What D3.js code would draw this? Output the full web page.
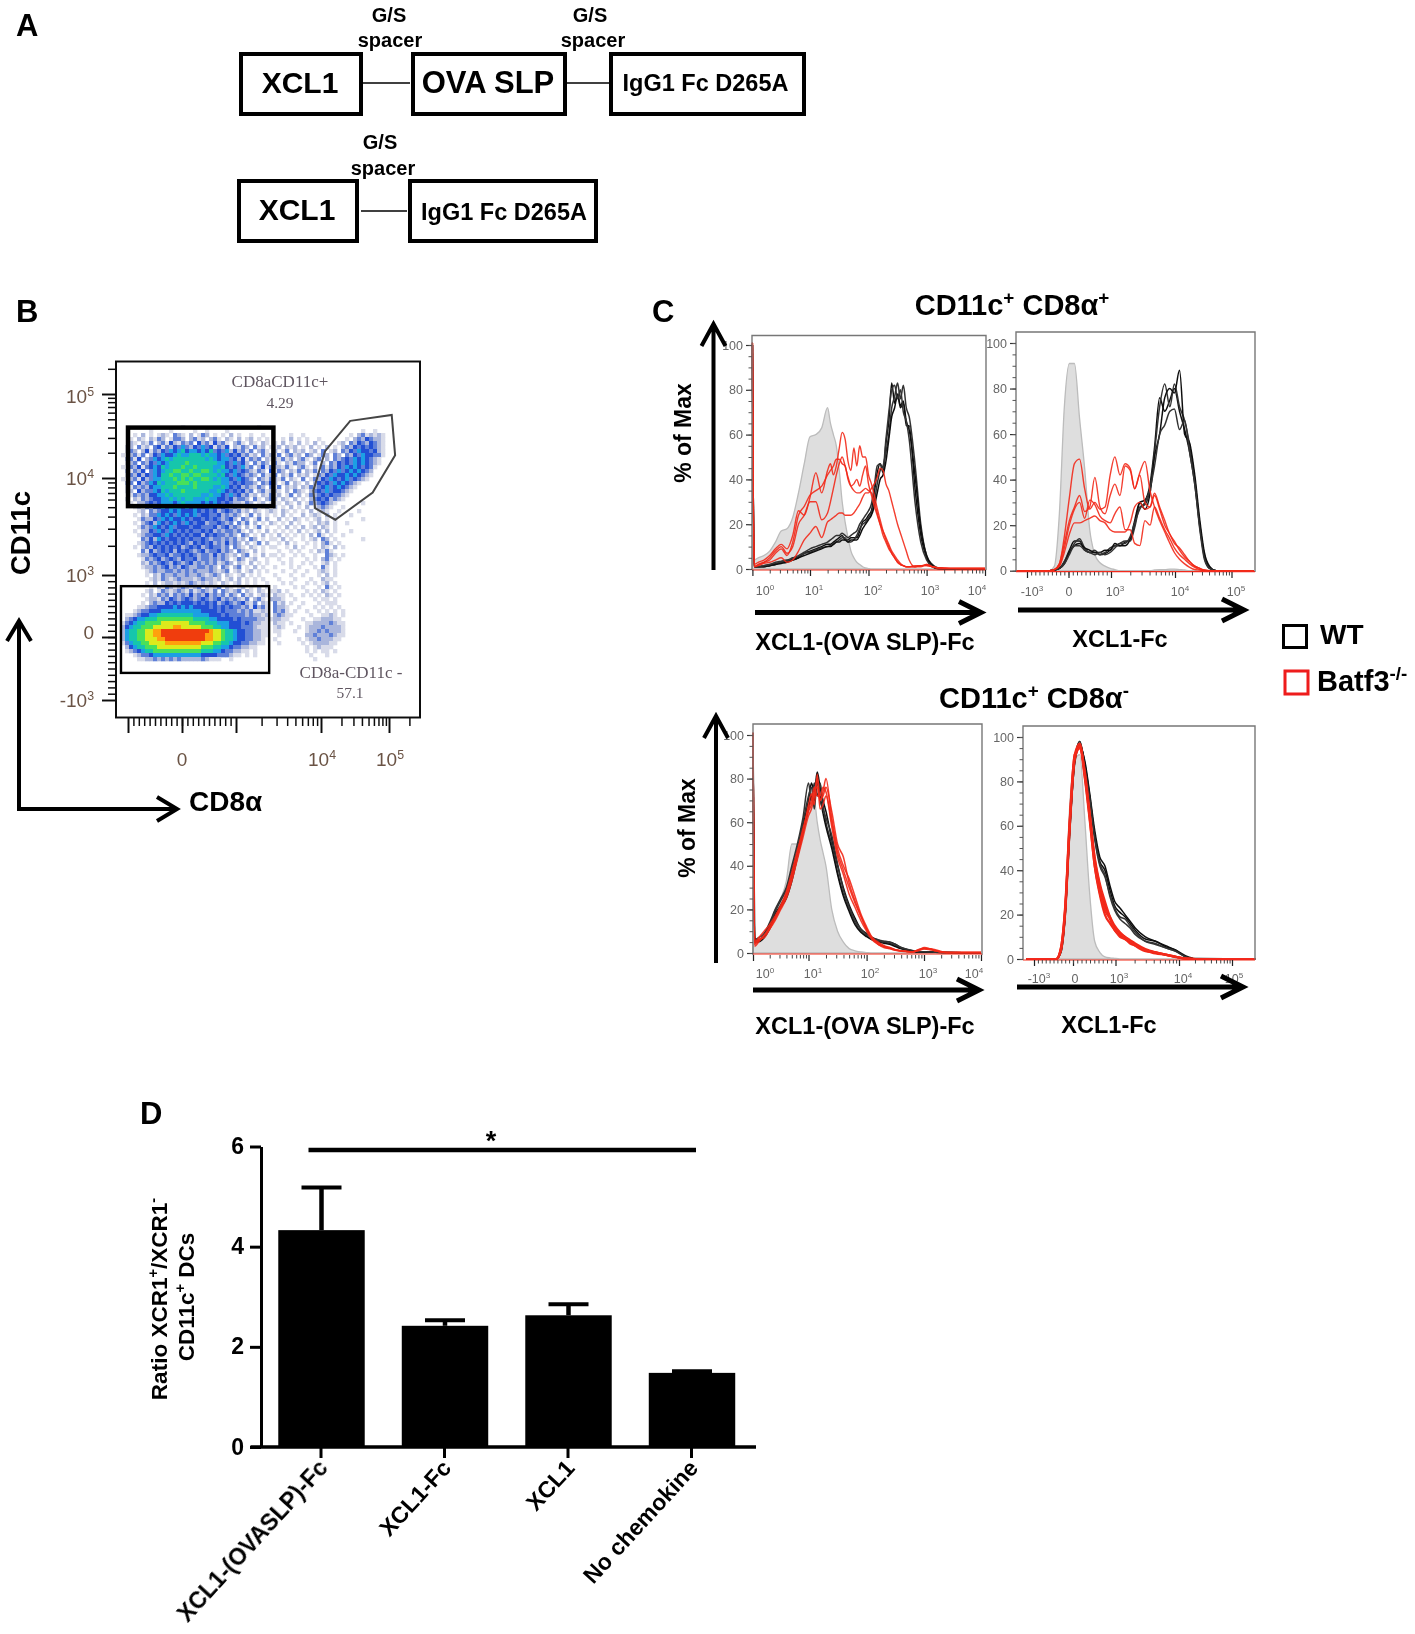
<!DOCTYPE html>
<html><head><meta charset="utf-8">
<script src="https://cdn.jsdelivr.net/npm/d3@7/dist/d3.min.js"></script>
<style>html,body{margin:0;padding:0;background:#fff}svg{display:block}text{font-family:"Liberation Sans",Arial,sans-serif}</style>
</head><body><svg id="fig" width="1415" height="1634" xmlns="http://www.w3.org/2000/svg"></svg>
<script>
// ---------- Panel D values ----------
const barCategories = ["XCL1-(OVASLP)-Fc","XCL1-Fc","XCL1","No chemokine"];
const barValues = [4.33,2.42,2.63,1.48];
const barErrorTops = [5.2,2.55,2.87,1.53];
const barYTicks = [0,2,4,6];

// ---------- Panel B values (axis channels: -1=-10^3, 0=0, 1=10^3, 2=10^4, 3=10^5) ----------
const flowChannels = [-1,0,1,2,3];
const flowYLabels = [["-10","3"],["0",""],["10","3"],["10","4"],["10","5"]];
const flowXLabels = [["0","",0],["10","4",2],["10","5",3]];
const gateHigh = {x:[-1,1.44], y:[1.71,2.6]};
const gateLow = {x:[-1.13,1.39], y:[-.57,.82]};
const gatePolyX = [2.43,3.04,3.09,2.76,2.21,1.93,1.91,2.06];
const gatePolyY = [2.68,2.75,2.27,1.85,1.57,1.69,1.87,2.32];
// density levels: 0 empty ... a = hottest. Left part of each row (CD8a low side)
const densityLeft = [
"00000000000000010000000000000000001000",
"00000001000010000010010000100000000000",
"00010201012103210201320101020100100100",
"00102102132013320231202310210201201010",
"00210213023142132304231423102310210210",
"01203120341324353243534132402132031201",
"01320241324354564554546343524231302310",
"10231302435445655666565545343423120312",
"02314023545656666666656545534241323021",
"01230324354566667666666655435342031320",
"10324134546566676676666556434352302413",
"02132403545667766766776565545343213204",
"01324243546676677677666656435432320312",
"10231423556667676766776565543543203213",
"02304235465666777676666665534343320324",
"01132324556667666676666556543423213203",
"01204233546566676666665565434342302312",
"00132324455656666666556554353423120213",
"01021323445565656655565544342332031023",
"00102234345554565555454543432213201201",
"00012132445455545454445434323202130120",
"00001203234454544454343423432312021012",
"00010213354543545453443342323201302010",
"00001322435454454344343432342032013020",
"00010234254345435434423343230313020102",
"00001323543453444344333423423202013010",
"00010224354354343433434232332310201020",
"00001233443543434344243433232032010201",
"00000324254344343433432332323120320101",
"00001234343434343243434232423202013020",
"00010232434343423434234332303210210101",
"00000314234342434323423342320321020100",
"00001223433423343432332423212023010201",
"00000132342343243342332323201320120010",
"00000213234324323423232312320210201010",
"00000122323423243223323203202301020100",
"00000012322332323232223212301201201010",
"00000010213223223223212320210120101000",
"00000001213212322212322120120201010100",
"00000010201221212321212102101201010010",
"00000001021321232123021230210120102010",
"00000012013212321312321303212302102101",
"00000102132313232423242323132031201210",
"00000012213243234323432342323213023102",
"00000102322434344434343423432342130210",
"00001123344445454544443434343323142310",
"00012334445555555555444434333232311210",
"01123445566666666655554443433332322120",
"02345566677777777766665544443433332211",
"13456677778888888777766655544434322110",
"24566777888889988888777665544433321110",
"2566778899aaaaaaaaaaaa9887665443322110",
"2566778899aaaaaaaaaaa99887665443322110",
"25667788899aaaaaaaaaa99887665443322100",
"13566778888999999999888776654433221100",
"02456677788888888888777665543322110000",
"01234566777777777777666554332211010000",
"00012334555555555555444433321101010000",
"00001122323232322222321110010000000000"
];
// Right part of each row (CD8a high side, polygon gate and sparse events)
const densityRight = [
"0000000000000000000000000000000",
"0000000000000000000000100100000",
"0000100100000000000102312121000",
"0010201010010000001023243221000",
"1020102010201000120324324321000",
"1202120102010201023243434321000",
"2013021201203012032435443421000",
"1302312032013203203243544331000",
"2131202310230203234354543210000",
"3102132201302032434354543210000",
"2213102310203132435454343100000",
"1320213021303243534545432000000",
"3021302120132435445454321000000",
"2130210301324354345343210000000",
"2013021020243435454321000000000",
"1302120213234534543210000000000",
"2102032102343534432100000000000",
"1201302013234343321000000000000",
"2021020102343423210000000000000",
"1102102013234321000000100000000",
"2010201020123210010000000000000",
"1021010102012100100001000000000",
"1020100201210201000100000000000",
"0201021010120101000000100000000",
"1010201001021201001000000000000",
"0102010201202101000000000000000",
"1010102010120201000100000000000",
"0201010102031010010000000000000",
"1020100101203201000000100000000",
"0102010010102310100000000000000",
"1001020100102102010000000000000",
"0100101001021310000000000000000",
"1010010100100321010000000000000",
"0100100010102310100000000000000",
"0010100101001201000000000000000",
"1000101000103101000000000000000",
"0010010010012101000000000000000",
"1000100100010201000000000000000",
"0100010001002110000000000000000",
"0010100010101201000000000000000",
"1000010100010310100000000000000",
"1201000010102101000000000000000",
"2110100101010210100000000000000",
"2210010000101101000000000000000",
"3120100100010111000000000000000",
"3221001000101010100000000000000",
"3231010010010101010000000000000",
"2321100001001121010000000000000",
"2211000100112221100000000000000",
"2110100011222232110000000000000",
"1210001012223222210000000000000",
"1100010012232322210000000000000",
"0100000022322232110000000000000",
"1000001012232221100000000000000",
"0100000101222211000000000000000",
"0000000010121110000000000000000",
"0000000010101101000000000000000",
"0000000001000100000000000000000",
"0000000000100000000000000000000"
];
const densityColors = {"0":null,"1":"#d8dbe9","2":"#aab6dc","3":"#5f80d8","4":"#2450d4","5":"#1a9fe4","6":"#16c6ac","7":"#48e05a","8":"#dcea1e","9":"#ffa00f","a":"#f03c10"};

// ---------- Panel C: CD11c+ CD8a+ / XCL1-(OVA SLP)-Fc (x = log10 decades) ----------
const c1X = [0,.03,.1,.2,.3,.4,.5,.6,.7,.8,.9,1,1.1,1.2,1.3,1.35,1.4,1.45,1.5,1.55,1.6,1.65,1.7,1.75,1.8,1.85,1.9,1.95,2,2.05,2.1,2.15,2.2,2.25,2.3,2.35,2.4,2.45,2.5,2.55,2.6,2.65,2.7,2.8,2.9,3,3.1,3.2,3.4,4];
const c1Gray = [100,4,5,6,8,12,17,18,23,34,47,59,60,63,72,65,60,55,44,30,21,14,8,5,3,2,1,.5,.2,0,0,0,0,0,0,0,0,0,0,0,0,0,0,0,0,0,0,0,0,0];
const c1Red1 = [101,2,3,4,6,9,11,9,15,26,24,32,43,34,44,47,42,46,54,61,58,48,44,54,46,55,50,50,42,38,33,27,22,17,13,10,7,5,3,2,1.5,1,1,1.5,1.5,2,1,.5,.3,.2];
const c1Red2 = [101,1,2,3,4,7,9,6,12,24,28,33,35,37,42,44,46,49,49,47,46,40,37,38,40,37,42,46,38,33,28,24,20,17,14,11,8,6,4,2.5,1.5,1,1,1,1.5,1.5,1,.5,.3,.2];
const c1Red3 = [101,1,1.5,2.5,3,4,5,3,4,8,13,16,19,14,21,22,23,24,25,25,24,24,24,25,27,29,32,34,34,36,38,41,45,44,38,35,30,25,20,16,12,8,4,1,1,2,1,.5,.3,.2];
const c1Red4 = [101,1,2,3,5,8,10,7,10,20,24,30,30,22,25,30,36,42,47,50,46,41,37,35,34,34,35,36,35,34,30,25,20,15,12,9,7,5,3,2,1.5,1,1,1,1.5,1.5,1,.5,.3,.2];
const c1Blk1 = [100,1,1,1,1.5,2,3,3.5,4,5,7,8,9,10,11,11,12,13,14,15,13,13,14,14,14,17,21,22,24,26,34,43,47,43,56,66,83,74,78,73,75,64,64,36,15,5,1,0,0,0];
const c1Blk2 = [100,1,1,1.5,2,2.5,3,3.5,4.5,5.5,7,7.5,8.5,9.5,10,10.5,11,12,13,14,14,12,12,13,15,18,20,21,23,25,30,38,44,46,52,60,72,77,83,76,82,72,68,47,20,6,2,.5,0,0];
const c1Blk3 = [100,1,1,1,1.5,2,2.5,3,4,5,6,7,8,9,10,10,11,12,12,13,13,12,13,13,13,15,18,20,22,24,28,34,40,42,48,58,68,72,78,72,74,66,62,42,18,6,1.5,.3,0,0];
const c1Blk4 = [100,1,1,1.5,2,3,3.5,4,5,6,7.5,9,10,11,12,13,14,15,15,16,15,14,15,16,17,20,22,24,26,29,37,46,47,45,58,70,80,82,76,80,70,66,58,30,12,4,1,.2,0,0];

// ---------- Panel C: CD11c+ CD8a+ / XCL1-Fc (x = channel) ----------
const c2X = [-1.26,-.46,-.34,-.22,-.10,.02,.14,.26,.38,.50,.62,.74,.86,.98,1.06,1.14,1.22,1.30,1.37,1.45,1.53,1.61,1.68,1.76,1.84,1.92,1.99,2.08,2.17,2.26,2.35,2.44,2.52,2.61,2.73,3.08,3.39];
const c2Gray = [0,0,2,25,72,91,91,67,45,18,7,3.5,2,1,.5,0,0,0,0,0,0,0,.3,.5,.5,.7,.7,.5,.3,0,0,0,0,0,0,0,0];
const c2Red1 = [0,0,.5,3,15,32,47,49,36,27,30,27,28,42,50,42,47,45,36,43,48,35,28,22,17,12,8,5,3,1.5,.5,.3,0,0,0,0,0];
const c2Red2 = [0,0,.5,3,12,22,28,33,26,28,41,28,25,33,38,33,46,44,36,42,30,28,33,27,20,16,12,10,7,4,2,1,.3,0,0,0,0];
const c2Red3 = [0,0,.5,2,10,20,27,30,23,31,29,24,22,21,25,28,18,18,12,11,22,20,28,23,18,14,10,7,5,3,1.5,.5,0,0,0,0,0];
const c2Red4 = [0,0,.5,2,8,16,21,21,22,23,24,22,21,18,17,17,17,21,28,30,27,28,34,28,22,16,13,9,6,4,2,1,.3,0,0,0,0];
const c2Blk1 = [0,0,.3,1,4,9,13,13,9,8,8,7,7.5,9,11,11,12.5,14,20,30,31,38,54,76,70,75,80,70,62,52,38,19,6,1,0,0,0];
const c2Blk2 = [0,0,.3,1,4,8,12,14,10,8,9,7,8,10,11,12,13,13,19,28,29,36,52,72,82,72,82,72,66,55,40,20,7,1.5,0,0,0];
const c2Blk3 = [0,0,.3,1,3,8,11,12,10,9,8,8,9,9,12,11,11,14,22,30,27,34,50,60,76,80,78,88,60,56,42,22,8,2,0,0,0];
const c2Blk4 = [0,0,.3,1,3,7,11,11,9,8,7,8,7,8,10,12,12,15,21,27,30,36,46,60,64,70,71,62,66,52,38,18,5,1,0,0,0];

// ---------- Panel C: CD11c+ CD8a- / XCL1-(OVA SLP)-Fc ----------
const c3X = [0,.03,.1,.2,.3,.4,.5,.6,.7,.8,.9,1,1.05,1.1,1.15,1.2,1.25,1.3,1.4,1.5,1.6,1.7,1.8,1.9,2,2.1,2.2,2.3,2.4,2.5,2.6,2.8,2.9,3,3.1,3.2,3.4,4];
const c3Gray = [100,5,6,8,13,20,25,33,50,50,55,68,69,70,60,52,46,40,20,10,5,2,1,.5,.2,0,0,0,0,0,0,0,0,0,0,0,0,0];
const c3Blk1 = [100,7,6,8,12,18,22,27,36,46,58,70,78,74,83,76,70,65,52,40,30,22,16,11,9,7,6,5,5,4,2.5,1,.5,.5,.5,.3,.2,0];
const c3Blk2 = [100,6,7,9,14,20,25,30,40,50,62,78,70,78,72,78,68,60,50,37,27,20,14,10,8,6,5.5,5,4.5,3.5,2,1,.5,.5,.5,.3,.2,0];
const c3Blk3 = [100,5,5,7,11,17,21,25,33,44,55,66,72,70,78,72,64,58,48,36,26,19,13,9.5,7.5,6,5,4.5,4,3,2,.8,.5,.5,.5,.3,.2,0];
const c3Blk4 = [100,6,6,8,13,19,24,29,38,48,60,72,76,66,80,70,66,62,54,41,29,21,15,11,8.5,7,6,5.5,5,4,2.5,1.2,.6,.6,.5,.3,.2,0];
const c3Red1 = [101,4,6,8,12,16,21,26,34,44,55,68,73,68,82,70,74,80,62,48,40,34,26,18,12,7,4.5,3,2.5,1.5,1,.5,1.5,2.2,2,1.5,.2,.2];
const c3Red2 = [101,5,7,10,13,17,22,28,37,47,56,65,68,74,76,70,72,76,65,50,44,32,24,17,11,6.5,4,3,2,1.5,1,.5,1.5,2,2,1,.2,.2];
const c3Red3 = [101,3,5,8,11,15,20,25,33,43,53,63,66,72,80,66,68,72,58,44,36,27,21,15,10,6,4,2.5,2,1.2,.8,.5,1,1.8,1.5,1,.2,.2];
const c3Red4 = [101,4,6,7,11,16,21,27,36,46,57,66,70,76,72,72,76,74,60,46,38,30,23,17,11,7,5,3.5,2.5,1.5,1,.5,1.2,2.5,2,1,.2,.2];

// ---------- Panel C: CD11c+ CD8a- / XCL1-Fc ----------
const c4X = [-1.19,-.43,-.31,-.2,-.08,.04,.16,.28,.39,.51,.63,.75,.87,.98,1.07,1.15,1.23,1.31,1.47,1.63,1.79,1.95,2.12,2.31,3.44];
const c4Gray = [0,0,3,25,70,90,92,62,30,8,3,1,.5,.3,.1,0,0,0,0,0,0,0,0,0,0];
const c4Blk1 = [0,0,4,20,60,90,97,88,74,56,44,40,31,24,21,19,16,13,9,8,5.5,4,1,0,0];
const c4Blk2 = [0,0,3,20,58,89,98,87,72,54,42,37,29,23,19,18,15,12,8,7,5,3.5,1,0,0];
const c4Blk3 = [0,0,4,21,60,88,96,89,75,58,46,42,33,26,23,20,17,14,10,8,6,4,1.5,.2,0];
const c4Blk4 = [0,0,3,19,58,90,98,86,73,55,43,38,28,22,18,16,14,11,8,6.5,5,3.5,1,0,0];
const c4Red1 = [0,0,4,21,60,90,95,84,66,45,33,24,19,15,12,10,8.5,7,4.5,3,2,1,.2,0,0];
const c4Red2 = [0,0,5,24,64,92,97,82,64,42,29,20,16,13,10,9,7,6,4,2.5,2,1,.2,0,0];
const c4Red3 = [0,0,4,22,62,90,96,83,66,46,34,26,19,14,11,9,8,6,3.5,3,2,.8,.2,0,0];
const c4Red4 = [0,0,5,23,63,92,95,81,63,42,30,22,18,13,11,10,8,6.5,4,3,1.8,1,.2,0,0];

const pctTicks = [0,20,40,60,80,100];
const pctMinor = d3.range(0,101,5);
const logLabels = [["10","0",0],["10","1",1],["10","2",2],["10","3",3],["10","4",4]];
const biexLabels = [["-10","3",-1],["0","",0],["10","3",1],["10","4",2],["10","5",3]];

const svg = d3.select("#fig");
const defs = svg.append("defs");
[["soft",.45],["dens",.75]].forEach(([id,s])=>{
  defs.append("filter").attr("id",id).attr("x","-5%").attr("y","-5%").attr("width","110%").attr("height","110%")
    .append("feGaussianBlur").attr("stdDeviation",s);
});
const root = svg.append("g").attr("filter","url(#soft)");

function txt(g,x,y,parts,o={}){
  const t=g.append("text").attr("x",x).attr("y",y).attr("font-size",o.size||20)
    .attr("font-weight",o.weight||"bold").attr("fill",o.fill||"#000")
    .attr("text-anchor",o.anchor||"start");
  if(o.family) t.style("font-family",o.family);
  if(o.rotate!==undefined) t.attr("transform",`rotate(${o.rotate} ${x} ${y})`);
  const sz=o.size||20;
  (Array.isArray(parts)?parts:[[parts,0]]).forEach(([s,sup])=>{
    const ts=t.append("tspan").text(s);
    if(sup){ts.attr("font-size",sz*.65).attr("dy",-sz*.38);}
    else if(t.selectAll("tspan").size()>1){ts.attr("dy",t.node().dataset.up?sz*.38:0);}
    t.node().dataset.up=sup?"1":"";
  });
  return t;
}
function arrow(g,x1,y1,x2,y2,w,hl,hw){
  const a=Math.atan2(y2-y1,x2-x1),c=Math.cos(a),s=Math.sin(a);
  const p=d3.path();p.moveTo(x1,y1);p.lineTo(x2-c*w*.4,y2-s*w*.4);
  p.moveTo(x2-c*hl-s*hw,y2-s*hl+c*hw);p.lineTo(x2,y2);p.lineTo(x2-c*hl+s*hw,y2-s*hl-c*hw);
  g.append("path").attr("d",p.toString()).attr("fill","none").attr("stroke","#000").attr("stroke-width",w);
}
function axis(g,gen,vals,size,color,width){
  const a=g.append("g").call(gen.tickValues(vals).tickSize(size).tickFormat(""));
  a.select(".domain").remove();
  a.selectAll("line").attr("stroke",color).attr("stroke-width",width);
  return a;
}
const logMinor=(a,b)=>d3.merge(d3.range(a,b).map(d=>[2,3,4,5,6,7,8,9].map(k=>d+Math.log10(k))));
const linMinor=(a,b)=>d3.range(a,b+.001,.1).map(d=>+d.toFixed(2));

/* ===== Panel A ===== */
const A=root.append("g");
txt(A,16,36,"A",{size:31});
const boxStyle=(x0,x1,y0,y1,label,size,dx=0,dyy=0)=>{
  A.append("rect").attr("x",x0).attr("y",y0).attr("width",x1-x0).attr("height",y1-y0).attr("fill","none").attr("stroke","#000").attr("stroke-width",4);
  txt(A,(x0+x1)/2+dx,(y0+y1)/2+size*.36+dyy,label,{size,anchor:"middle"});
};
boxStyle(241,361,54,114,"XCL1",30,-1,-2);
boxStyle(413,565,54,114,"OVA SLP",31,-1,-2);
boxStyle(611,804,54,114,"IgG1 Fc D265A",23.5,-2,-1);
boxStyle(239,357,181,241,"XCL1",30,-1,-2);
boxStyle(410,596,181,241,"IgG1 Fc D265A",23.5,1,1);
[[363,410,83],[567,609,83],[361,407,211]].forEach(([a,b,y])=>A.append("line").attr("x1",a).attr("x2",b).attr("y1",y).attr("y2",y).attr("stroke","#000").attr("stroke-width",1.6));
[[389,22,390,47],[590,22,593,47],[380,149,383,175]].forEach(([a,y1,b,y2])=>{
  txt(A,a,y1,"G/S",{size:20,anchor:"middle"});
  txt(A,b,y2,"spacer",{size:20,anchor:"middle"});
});

/* ===== Panel B ===== */
const B=root.append("g");
txt(B,16,322,"B",{size:31});
const bx=d3.scaleLinear().domain(flowChannels).range([128,182,236,321,389]);
const by=d3.scaleLinear().domain(flowChannels).range([700,637,575,478,394]);
const colBand=d3.scaleBand().domain(d3.range(69)).range([121,397]);
const rowBand=d3.scaleBand().domain(d3.range(densityLeft.length)).range([425,661]);
const dens=svg.insert("g",":first-child").attr("filter","url(#dens)");
densityLeft.forEach((left,j)=>{
  (left+densityRight[j]).split("").forEach((ch,i)=>{
    if(!densityColors[ch]||i>=69) return;
    dens.append("rect").attr("x",colBand(i)).attr("y",rowBand(j)).attr("width",colBand.bandwidth()+.3).attr("height",rowBand.bandwidth()+.3).attr("fill",densityColors[ch]);
  });
});
B.append("rect").attr("x",116).attr("y",361.5).attr("width",304).attr("height",356).attr("fill","none").attr("stroke","#111").attr("stroke-width",2);
const bxAxis=B.append("g").attr("transform","translate(0,718)");
const byAxis=B.append("g").attr("transform","translate(116,0)");
axis(bxAxis,d3.axisBottom(bx),flowChannels,15,"#111",2);
axis(bxAxis,d3.axisBottom(bx),[...linMinor(-.9,.9),...logMinor(1,3),3.3],8,"#111",1.5);
axis(byAxis,d3.axisLeft(by),flowChannels,14,"#111",2);
axis(byAxis,d3.axisLeft(by),[...linMinor(-.9,.9),...logMinor(1,3),3.3],8,"#111",1.5);
const flowTxt={size:19,weight:"normal",fill:"#6a5344"};
flowYLabels.forEach((l,i)=>{
  const shift=l[0]==="0"?-5:(l[1]==="5"?2:0);
  txt(B,94,by(flowChannels[i])+7+shift,l[1]?[[l[0],0],[l[1],1]]:[[l[0],0]],{...flowTxt,anchor:"end"});
});
flowXLabels.forEach(l=>{
  txt(B,bx(l[2])+(l[1]?1:0),766,l[1]?[[l[0],0],[l[1],1]]:[[l[0],0]],{...flowTxt,anchor:"middle"});
});
const gateLabel={size:17,weight:"normal",fill:"#5f5560",anchor:"middle",family:"'Liberation Serif',serif"};
txt(B,280,387,"CD8aCD11c+",gateLabel);
txt(B,280,408,"4.29",{...gateLabel,size:15.5});
txt(B,351,678,"CD8a-CD11c -",gateLabel);
txt(B,350,698,"57.1",{...gateLabel,size:15.5});
B.append("rect").attr("x",bx(gateHigh.x[0])).attr("y",by(gateHigh.y[1])).attr("width",bx(gateHigh.x[1])-bx(gateHigh.x[0])).attr("height",by(gateHigh.y[0])-by(gateHigh.y[1])).attr("fill","none").attr("stroke","#000").attr("stroke-width",4.5);
B.append("rect").attr("x",bx(gateLow.x[0])).attr("y",by(gateLow.y[1])).attr("width",bx(gateLow.x[1])-bx(gateLow.x[0])).attr("height",by(gateLow.y[0])-by(gateLow.y[1])).attr("fill","none").attr("stroke","#000").attr("stroke-width",2.4);
B.append("path").attr("d",d3.line().x(d=>bx(d)).y((d,i)=>by(gatePolyY[i])).curve(d3.curveLinearClosed)(gatePolyX)).attr("fill","none").attr("stroke","#444").attr("stroke-width",2);
arrow(B,19,809,19,621,4,20,12);
arrow(B,17,809,177,809,4,20,12);
txt(B,30,575,"CD11c",{size:27.5,rotate:-90});
txt(B,189,811,"CD8α",{size:28});

/* ===== Panel C ===== */
const C=root.append("g");
txt(C,652,322,"C",{size:31});
txt(C,1012,315,[["CD11c",0],["+",1],[" CD8α",0],["+",1]],{size:29,anchor:"middle"});
txt(C,1034,708,[["CD11c",0],["+",1],[" CD8α",0],["-",1]],{size:29,anchor:"middle"});

function histo(cfg){
  const g=C.append("g");
  const x=d3.scaleLinear().domain(cfg.domain).range(cfg.xr);
  const y=d3.scaleLinear().domain([0,100]).range(cfg.yr);
  const [fx0,fx1,fy0,fy1]=cfg.frame;
  const area=d3.area().x((d,i)=>x(cfg.xs[i])).y0(y(0)).y1(d=>y(d)).curve(d3.curveMonotoneX);
  const line=d3.line().x((d,i)=>x(cfg.xs[i])).y(d=>y(d)).curve(d3.curveMonotoneX);
  g.append("path").attr("d",area(cfg.gray)).attr("fill","#dedede").attr("stroke","#bcbcbc").attr("stroke-width",1.3);
  cfg.blacks.forEach((v,i)=>g.append("path").attr("d",line(v)).attr("fill","none").attr("stroke",i%2?"#333":"#111").attr("stroke-width",1.5));
  cfg.reds.forEach(v=>g.append("path").attr("d",line(v)).attr("fill","none").attr("stroke","#f2291a").attr("stroke-width",cfg.redW||1.4).attr("stroke-opacity",cfg.redO||.9));
  g.append("path").attr("d",`M${fx0},${fy1}V${fy0}H${fx1}V${fy1}`).attr("fill","none").attr("stroke","#777").attr("stroke-width",1.4);
  g.append("line").attr("x1",fx0).attr("x2",fx1).attr("y1",y(0)+1).attr("y2",y(0)+1).attr("stroke","#f2291a").attr("stroke-width",1.2);
  const ay=g.append("g").attr("transform",`translate(${fx0},0)`);
  axis(ay,d3.axisLeft(y),pctTicks,6,"#333",1.2);
  axis(ay,d3.axisLeft(y),pctMinor,3.5,"#555",1);
  const ax=g.append("g").attr("transform",`translate(0,${fy1})`);
  axis(ax,d3.axisBottom(x),cfg.major,6,"#222",1.2);
  axis(ax,d3.axisBottom(x),cfg.minor,3.5,"#444",1);
  const small={size:12.5,weight:"normal",fill:"#666",family:"'Liberation Sans Narrow','Liberation Sans',sans-serif"};
  pctTicks.forEach(t=>txt(g,fx0-9,y(t)+4.5,String(t),{...small,anchor:"end"}));
  cfg.labels.forEach((l,i)=>txt(g,cfg.labelX[i],cfg.labelY,l[1]?[[l[0],0],[l[1],1]]:[[l[0],0]],{...small,anchor:"middle"}));
}
histo({frame:[752,986,335.5,570],domain:[0,1,2,3,4],xr:[752.4,810,868.5,926.6,985],yr:[569,345],xs:c1X,gray:c1Gray,
  blacks:[c1Blk1,c1Blk2,c1Blk3,c1Blk4],reds:[c1Red1,c1Red2,c1Red3,c1Red4],major:[0,1,2,3,4],minor:logMinor(0,4),
  labels:logLabels,labelX:[765,814,873,930,977],labelY:595});
histo({frame:[1016,1255,332,572],domain:flowChannels,xr:[1027,1068.5,1111,1175,1231.5],yr:[570.7,343],xs:c2X,gray:c2Gray,
  blacks:[c2Blk1,c2Blk2,c2Blk3,c2Blk4],reds:[c2Red1,c2Red2,c2Red3,c2Red4],major:flowChannels,minor:[...linMinor(-.9,.9),...logMinor(1,3)],
  labels:biexLabels,labelX:[1032,1069,1115,1180,1236],labelY:596});
histo({frame:[753,982,724,955],domain:[0,1,2,3,4],xr:[753,808.5,866.6,924,981],yr:[953,735],xs:c3X,gray:c3Gray,
  blacks:[c3Blk1,c3Blk2,c3Blk3,c3Blk4],reds:[c3Red1,c3Red2,c3Red3,c3Red4],major:[0,1,2,3,4],minor:logMinor(0,4),
  labels:logLabels,labelX:[765,813,870,928,974],labelY:978,redW:1.5});
histo({frame:[1023,1255,726,960],domain:flowChannels,xr:[1034,1073,1115.5,1179,1232],yr:[959,737],xs:c4X,gray:c4Gray,
  blacks:[c4Blk1,c4Blk2,c4Blk3,c4Blk4],reds:[c4Red1,c4Red2,c4Red3,c4Red4],major:flowChannels,minor:[...linMinor(-.9,.9),...logMinor(1,3)],
  labels:biexLabels,labelX:[1039,1075,1119,1183,1234],labelY:983,redW:2.2,redO:1});

// axis arrows and axis names
arrow(C,713.5,570,713.5,324,4,22,12);
arrow(C,755,612.5,981,612.5,5,22,11);
arrow(C,1018,610,1244,610,5,22,11);
arrow(C,716,963,716,716,4,22,12);
arrow(C,753,990,979,990,5,22,11);
arrow(C,1017,987,1243,987,5,22,11);
txt(C,691,433,"% of Max",{size:23,rotate:-90,anchor:"middle"});
txt(C,695,828,"% of Max",{size:23,rotate:-90,anchor:"middle"});
txt(C,865,650,"XCL1-(OVA SLP)-Fc",{size:23.5,anchor:"middle"});
txt(C,1120,647,"XCL1-Fc",{size:23.5,anchor:"middle"});
txt(C,865,1034,"XCL1-(OVA SLP)-Fc",{size:23.5,anchor:"middle"});
txt(C,1109,1033,"XCL1-Fc",{size:23.5,anchor:"middle"});
// legend
C.append("rect").attr("x",1283.5).attr("y",625.5).attr("width",23).attr("height",22).attr("fill","none").attr("stroke","#000").attr("stroke-width",3);
txt(C,1320,644,"WT",{size:28});
C.append("rect").attr("x",1285).attr("y",671).attr("width",23).attr("height",23).attr("fill","none").attr("stroke","#ee1c1c").attr("stroke-width",3);
txt(C,1317,691,[["Batf3",0],["-/-",1]],{size:29});

/* ===== Panel D ===== */
const D=root.append("g");
txt(D,140,1124,"D",{size:31});
const dy=d3.scaleLinear().domain([0,6]).range([1447,1146.5]);
const dx=d3.scaleBand().domain(barCategories).range([259.25,753.25]).paddingInner(.3).paddingOuter(.15);
const bw=dx.bandwidth();
const eCap=40;
barCategories.forEach((c,i)=>{
  const cx=dx(c)+bw/2+.5;
  D.append("line").attr("x1",cx).attr("x2",cx).attr("y1",dy(barValues[i])).attr("y2",dy(barErrorTops[i])).attr("stroke","#000").attr("stroke-width",4.5);
  D.append("line").attr("x1",cx-eCap/2).attr("x2",cx+eCap/2).attr("y1",dy(barErrorTops[i])+1).attr("y2",dy(barErrorTops[i])+1).attr("stroke","#000").attr("stroke-width",4);
  D.append("rect").attr("x",dx(c)+.5).attr("y",dy(barValues[i])).attr("width",bw).attr("height",dy(0)-dy(barValues[i])).attr("fill","#000");
});
const dya=D.append("g").attr("transform","translate(261,0)").call(d3.axisLeft(dy).tickValues(barYTicks).tickSize(11).tickSizeOuter(0).tickFormat(""));
dya.selectAll("line").attr("stroke","#000").attr("stroke-width",3);
dya.select(".domain").attr("stroke","#000").attr("stroke-width",3);
const dxa=D.append("g").attr("transform","translate(0,1447)").call(d3.axisBottom(dx).tickSize(11).tickSizeOuter(0).tickFormat(""));
dxa.select(".domain").remove();
dxa.selectAll("line").attr("stroke","#000").attr("stroke-width",3);
D.append("line").attr("x1",250.5).attr("x2",756).attr("y1",1447).attr("y2",1447).attr("stroke","#000").attr("stroke-width",3.5);
barYTicks.forEach(t=>txt(D,244,dy(t)+7.5,String(t),{size:23,anchor:"end"}));
barCategories.forEach(c=>{
  const cx=dx(c)+bw/2;
  txt(D,cx+8,1469,c,{size:23,anchor:"end",rotate:-47.5});
});
D.append("line").attr("x1",308.5).attr("x2",696).attr("y1",1150).attr("y2",1150).attr("stroke","#000").attr("stroke-width",4.5);
txt(D,491,1150,"*",{size:27,anchor:"middle"});
txt(D,167,1299,[["Ratio XCR1",0],["+",1],["/XCR1",0],["-",1]],{size:22.5,rotate:-90,anchor:"middle"});
txt(D,194,1297,[["CD11c",0],["+",1],[" DCs",0]],{size:22.5,rotate:-90,anchor:"middle"});
</script></body></html>
